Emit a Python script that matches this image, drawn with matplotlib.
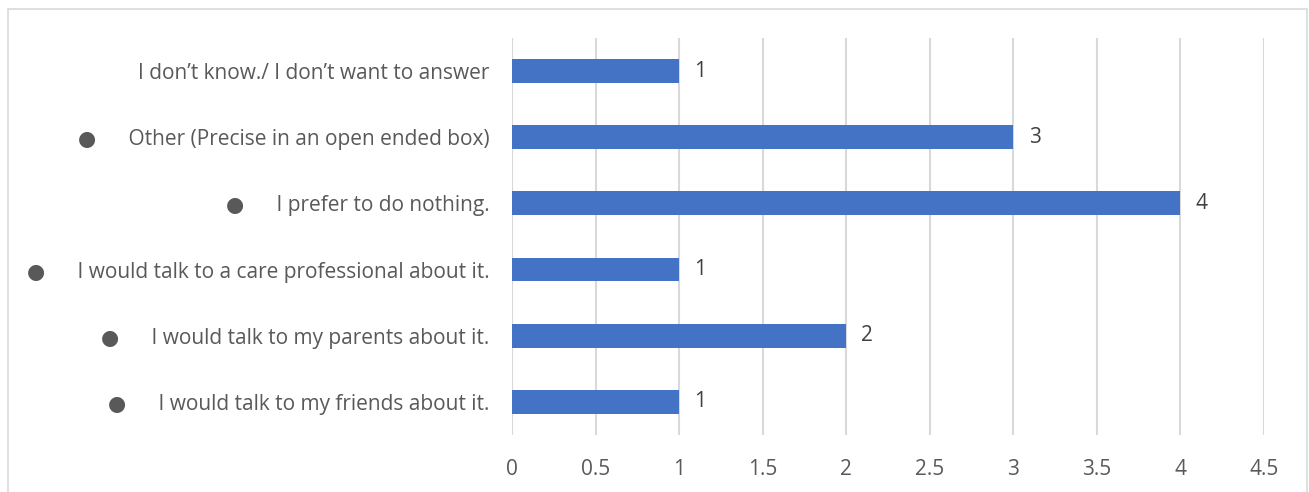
import matplotlib.pyplot as plt
from matplotlib.patches import Rectangle

# données ---------------------------------------------------------------

reponses = [
    "I would talk to my friends about it.",
    "I would talk to my parents about it.",
    "I would talk to a care professional about it.",
    "I prefer to do nothing.",
    "Other (Precise in an open ended box)",
    "I don\u2019t know./ I don\u2019t want to answer",
]
puce = [True, True, True, True, True, False]
effectifs = [1, 2, 1, 4, 3, 1]
graduations = [0, 0.5, 1, 1.5, 2, 2.5, 3, 3.5, 4, 4.5]

# style -----------------------------------------------------------------

plt.rcParams["font.family"] = ["Open Sans", "DejaVu Sans"]
GRIS_TEXTE = "#595959"
GRIS_GRILLE = "#D9D9D9"
BLEU = "#4472C4"
TAILLE = 15

fig = plt.figure(figsize=(13.09, 4.92), dpi=100)
ax = fig.add_axes([0.3911, 0.1159, 0.5745, 0.8069])

y = list(range(len(reponses)))
ax.barh(y, effectifs, height=0.36, color=BLEU, zorder=3)

for yi, v in zip(y, effectifs):
    ax.annotate(f"{v:g}", (v, yi), xytext=(11, 0), textcoords="offset points",
                ha="left", va="center", fontsize=TAILLE, color="#404040")

etiquettes = [("\u25CF" + " " * 6 + r) if p else r
              for r, p in zip(reponses, puce)]
ax.set_yticks(y)
ax.set_yticklabels(etiquettes, fontsize=TAILLE, color=GRIS_TEXTE)
ax.set_ylim(-0.5, len(reponses) - 0.5)

ax.set_xlim(0, 4.5)
ax.set_xticks(graduations)
ax.set_xticklabels([f"{g:g}" for g in graduations], fontsize=TAILLE, color=GRIS_TEXTE)
ax.tick_params(axis="both", length=0)
ax.tick_params(axis="y", pad=16)
ax.tick_params(axis="x", pad=17)

ax.grid(axis="x", color=GRIS_GRILLE, linewidth=1.5, zorder=0)
for s in ax.spines.values():
    s.set_visible(False)

# cadre du graphique
fig.patches.append(Rectangle((8 / 1309, -0.2), 1299 / 1309, 1.2 - 9 / 492,
                             transform=fig.transFigure, fill=False,
                             edgecolor=GRIS_GRILLE, linewidth=1.2))

fig.savefig("out.png", dpi=100)
